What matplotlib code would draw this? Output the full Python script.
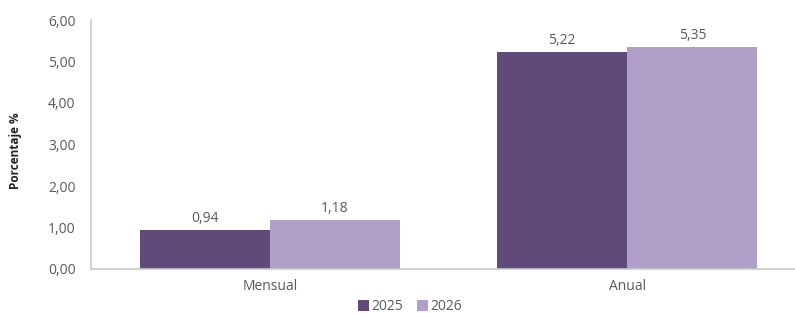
import matplotlib.pyplot as plt
import numpy as np

# --- Data ---
categories = ['Mensual', 'Anual']
series_names = ['2025', '2026']
values_2025 = [0.94, 5.22]
values_2026 = [1.18, 5.35]
y_ticks = [0, 1, 2, 3, 4, 5, 6]

plt.rcParams['font.family'] = ['Open Sans', 'DejaVu Sans']

dark = '#5f4a7a'
light = '#b0a0c8'
grey_text = '#595959'
fs = 10

fig = plt.figure(figsize=(7.95, 3.13), dpi=100)
ax = fig.add_axes([91 / 795, 1 - 269 / 313, 715 / 795, 249 / 313])

x = np.arange(len(categories))
w = 0.364
b1 = ax.bar(x - w / 2, values_2025, w, color=dark, label=series_names[0])
b2 = ax.bar(x + w / 2, values_2026, w, color=light, label=series_names[1])

# value labels over each bar
for bars in (b1, b2):
    for rect in bars:
        h = rect.get_height()
        ax.text(rect.get_x() + rect.get_width() / 2, h + 0.1,
                f'{h:.2f}'.replace('.', ','), ha='center', va='bottom',
                fontsize=fs, color=grey_text)

ax.set_xlim(-0.5, 1.5)
ax.set_ylim(0, 6)
ax.set_yticks(y_ticks)
ax.set_yticklabels([f'{t:.2f}'.replace('.', ',') for t in y_ticks])
ax.set_xticks(x)
ax.set_xticklabels(categories)
ax.tick_params(length=0, labelsize=fs, colors=grey_text)
ax.tick_params(axis='y', pad=11)
ax.tick_params(axis='x', pad=7)

for s in ['top', 'right']:
    ax.spines[s].set_visible(False)
for s in ['left', 'bottom']:
    ax.spines[s].set_color('#c8c8c8')
    ax.spines[s].set_linewidth(1.2)

fig.text(16 / 795, 1 - 151 / 313, 'Porcentaje %', rotation=90, ha='center',
         va='center', fontsize=8.5, fontweight='bold', color='#222222',
         fontstretch='condensed')

fig.legend(handles=[b1, b2], loc='center', bbox_to_anchor=(410 / 795, 1 - 307 / 313),
           ncol=2, frameon=False, fontsize=fs, handlelength=0.8, handleheight=0.8,
           handletextpad=0.15, columnspacing=1.0, labelcolor=grey_text)

fig.savefig('out.png', dpi=100)
